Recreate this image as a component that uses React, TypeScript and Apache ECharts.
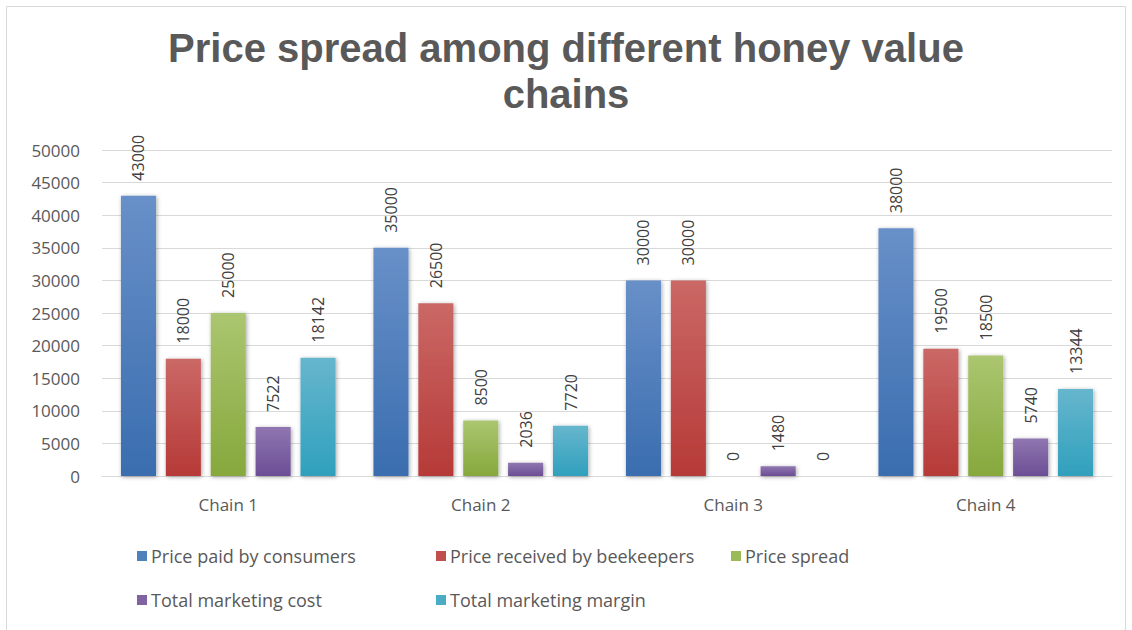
import React, { useEffect, useRef } from "react";
import * as echarts from "echarts";

const categories = ["Chain 1", "Chain 2", "Chain 3", "Chain 4"];
const seriesNames = [
  "Price paid by consumers",
  "Price received by beekeepers",
  "Price spread",
  "Total marketing cost",
  "Total marketing margin",
];
const pricePaid = [43000, 35000, 30000, 38000];
const priceReceived = [18000, 26500, 30000, 19500];
const priceSpread = [25000, 8500, 0, 18500];
const marketingCost = [7522, 2036, 1480, 5740];
const marketingMargin = [18142, 7720, 0, 13344];
const yTicks = [0, 5000, 10000, 15000, 20000, 25000, 30000, 35000, 40000, 45000, 50000];

const flatColors = ["#4f81bd", "#c0504d", "#9bbb59", "#8064a2", "#4bacc6"];
const gradTop = ["#6890c8", "#ca6866", "#abc670", "#9076b0", "#66b6cd"];
const gradBottom = ["#3a6daf", "#b63a37", "#86a83c", "#6b4e95", "#30a0bd"];

const FONT = "Open Sans";

export default function App() {
  const ref = useRef<HTMLDivElement>(null);
  useEffect(() => {
    if (!ref.current) return;
    const chart = echarts.init(ref.current, null, { renderer: "svg" });
    const allData = [pricePaid, priceReceived, priceSpread, marketingCost, marketingMargin];
    const series = allData.map((d, i) => ({
      name: seriesNames[i],
      type: "bar",
      data: d,
      barGap: "28%",
      barCategoryGap: "15%",
      itemStyle: {
        color: new echarts.graphic.LinearGradient(0, 0, 0, 1, [
          { offset: 0, color: gradTop[i] },
          { offset: 1, color: gradBottom[i] },
        ]),
        shadowColor: "rgba(0,0,0,0.35)",
        shadowBlur: 4,
        shadowOffsetX: 1,
        shadowOffsetY: 1,
      },
      label: {
        show: true,
        position: "top",
        rotate: 90,
        align: "left",
        verticalAlign: "middle",
        distance: 15,
        color: "#404040",
        fontSize: 16,
        fontFamily: FONT,
      },
    }));
    const legendPos = [
      [132, 542],
      [431, 542],
      [726, 542],
      [132, 586],
      [431, 586],
    ];
    const legends = seriesNames.map((n, i) => ({
      data: [{ name: n, itemStyle: { color: flatColors[i] } }],
      left: legendPos[i][0],
      top: legendPos[i][1],
      icon: "rect",
      itemWidth: 10,
      itemHeight: 10,
      itemGap: 4,
      textStyle: { color: "#595959", fontSize: 18, fontFamily: FONT, padding: [0, 0, 0, -1] },
    }));
    chart.setOption({
      animation: false,
      backgroundColor: "#ffffff",
      title: {
        text: "Price spread among different honey value\nchains",
        left: "center",
        top: 20,
        textStyle: {
          color: "#595959",
          fontSize: 40,
          fontWeight: "bold",
          fontFamily: "Liberation Sans",
          lineHeight: 46,
        },
      },
      legend: legends,
      graphic: [
        {
          type: "rect",
          shape: { x: 6.5, y: 6.5, width: 1119, height: 640 },
          style: { fill: "none", stroke: "#d9d9d9", lineWidth: 1 },
          silent: true,
        },
      ],
      grid: { left: 102, right: 20, top: 150, bottom: 154, containLabel: false },
      xAxis: {
        type: "category",
        data: categories,
        axisTick: { show: false },
        axisLine: { lineStyle: { color: "#d9d9d9", width: 1 } },
        axisLabel: { color: "#595959", fontSize: 17, fontFamily: FONT, margin: 20 },
      },
      yAxis: {
        type: "value",
        min: yTicks[0],
        max: yTicks[yTicks.length - 1],
        interval: yTicks[1] - yTicks[0],
        axisLine: { show: false },
        axisTick: { show: false },
        splitLine: { lineStyle: { color: "#d9d9d9", width: 1 } },
        axisLabel: {
          color: "#595959",
          fontSize: 17,
          fontFamily: FONT,
          margin: 22,
          formatter: (v: number) => String(v),
        },
      },
      series,
    });
    return () => chart.dispose();
  }, []);
  return (
    <div
      ref={ref}
      style={{ position: "fixed", left: 0, top: 0, width: 1132, height: 630 }}
    />
  );
}
